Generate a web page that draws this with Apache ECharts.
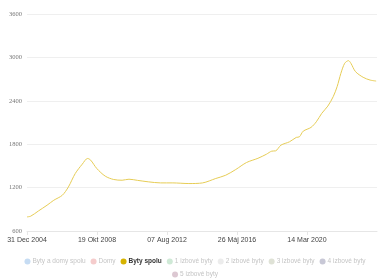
<!DOCTYPE html>
<html>
<head>
<meta charset="utf-8">
<script src="https://cdn.jsdelivr.net/npm/echarts@6/dist/echarts.min.js"></script>
<style>html,body{margin:0;padding:0;background:#fff}#c{width:390px;height:280px}</style>
</head>
<body>
<div id="c"></div>
<script>
// Data
const dates = ["2004-12-31","2005-03-15","2005-08-15","2006-02-01","2006-06-15","2006-12-01","2007-04-01","2007-08-15","2008-01-01","2008-04-15","2008-06-15","2008-10-15","2009-04-01","2009-09-15","2010-03-01","2010-07-15","2011-01-01","2011-08-01","2012-04-01","2012-12-01","2013-10-15","2014-07-15","2015-04-01","2015-10-15","2016-05-01","2016-12-01","2017-07-15","2018-01-01","2018-04-15","2018-07-01","2018-10-15","2019-04-01","2019-08-15","2019-10-15","2020-01-01","2020-06-01","2020-09-15","2020-12-31","2021-05-01","2021-08-15","2021-11-01","2022-01-15","2022-04-01","2022-06-15","2022-08-01","2022-11-01","2023-04-01","2023-08-15","2023-12-15"];
const bytySpolu = [795,805,877,956,1025,1094,1209,1395,1524,1603,1580,1464,1358,1312,1302,1316,1300,1280,1265,1265,1256,1265,1326,1371,1450,1547,1605,1662,1704,1708,1787,1833,1894,1902,1981,2032,2110,2226,2327,2456,2595,2780,2919,2955,2919,2803,2725,2687,2673];
const seriesNames = ["Byty a domy spolu","Domy","Byty spolu","1 izbové byty","2 izbové byty","3 izbové byty","4 izbové byty","5 izbové byty"];
const seriesColors = ["#c6dcf3","#f5cccc","#d6b300","#cfe9d6","#ececec","#dfe2d6","#c8c8d6","#dcc8d2"];
const activeSeries = "Byty spolu";
const yTicks = [600,1200,1800,2400,3000,3600];
const startDate = "2004-12-31";
const tickDays = 1388;
const tickCount = 5;
const months = ["Jan","Feb","Mar","Apr","Máj","Jún","Júl","Aug","Sep","Okt","Nov","Dec"];

function utc(s){const p=s.split("-").map(Number);return Date.UTC(p[0],p[1]-1,p[2]);}
const t0 = utc(startDate);
const dayOf = s => Math.round((utc(s)-t0)/86400000);
function fmt(d){const dt=new Date(t0+d*86400000);const dd=String(dt.getUTCDate()).padStart(2,"0");return dd+" "+months[dt.getUTCMonth()]+" "+dt.getUTCFullYear();}

const points = dates.map((d,i)=>[dayOf(d), bytySpolu[i]]);

const series = seriesNames.map((n,i)=>({
  name:n, type:"line", showSymbol:false, symbol:"none",
  data: n===activeSeries ? points : [],
  smooth: 0.3,
  itemStyle:{color:seriesColors[i]},
  lineStyle: n===activeSeries ? {color:"#e6cc55", width:1} : {color:seriesColors[i]}
}));

const legendItem = n => n===activeSeries ? {name:n, textStyle:{color:"#333", fontWeight:"bold"}} : {name:n};
const legendBase = {
  left:"center", icon:"circle", itemWidth:6, itemHeight:6, itemGap:5,
  textStyle:{fontSize:6.5, color:"#c4c4c4", padding:[0,0,0,-3], fontFamily:"Arial, Liberation Sans, sans-serif"},
  selectedMode:false
};

const chart = echarts.init(document.getElementById("c"), null, {renderer:"canvas"});
chart.setOption({
  animation:false,
  grid:{left:27,right:13,top:14,bottom:49},
  xAxis:{
    type:"value", min:0, max:tickDays*tickCount, interval:tickDays,
    axisLine:{show:true,lineStyle:{color:"#e6e6e6"}},
    axisTick:{show:true,length:4,lineStyle:{color:"#e6e6e6"}},
    splitLine:{show:false},
    axisLabel:{formatter:v=>fmt(v), showMaxLabel:false, fontSize:7, color:"#444", margin:6, fontFamily:"Arial, Liberation Sans, sans-serif"}
  },
  yAxis:{
    type:"value", min:yTicks[0], max:yTicks[yTicks.length-1], interval:yTicks[1]-yTicks[0],
    axisLine:{show:false}, axisTick:{show:false},
    splitLine:{lineStyle:{color:"#efefef"}},
    axisLabel:{formatter:v=>String(v), fontSize:6.5, color:"#777", margin:5, fontFamily:"Liberation Serif, serif"}
  },
  legend:[
    Object.assign({}, legendBase, {top:253, data: seriesNames.slice(0,7).map(legendItem)}),
    Object.assign({}, legendBase, {top:266, data: seriesNames.slice(7).map(legendItem)})
  ],
  series: series
});
</script>
</body>
</html>
